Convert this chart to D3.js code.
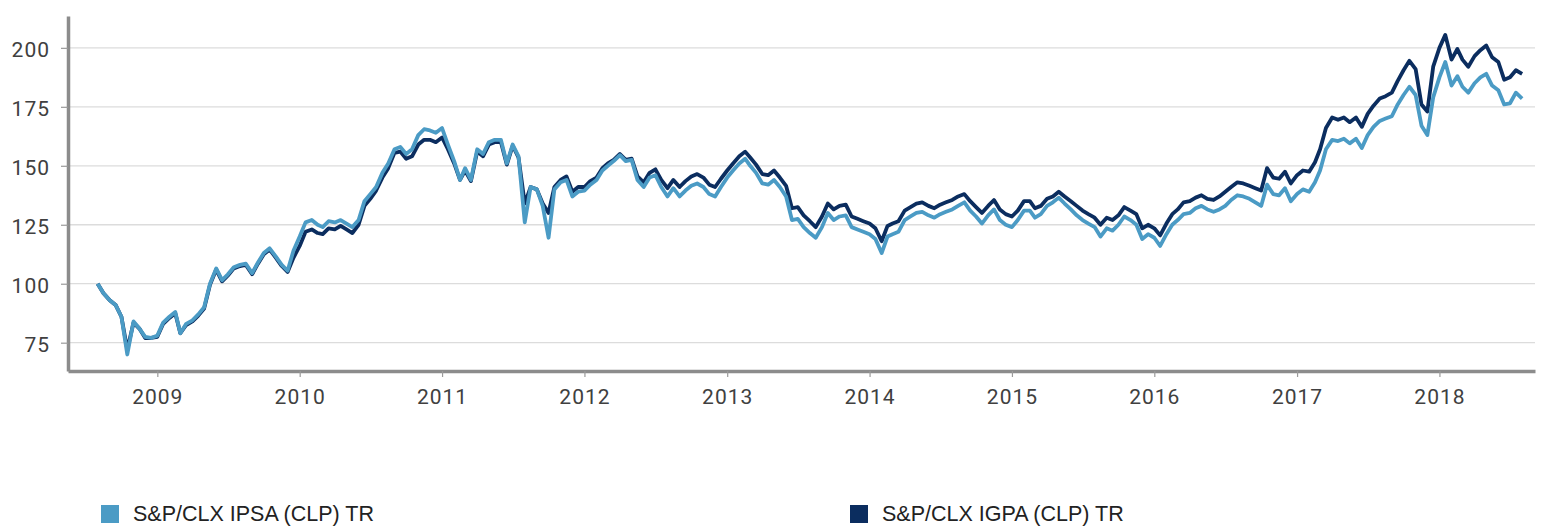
<!DOCTYPE html>
<html>
<head>
<meta charset="utf-8">
<script src="https://cdn.jsdelivr.net/npm/d3@7"></script>
<style>
  body { margin: 0; background: #fff; }
  svg { display: block; }
</style>
</head>
<body>
<svg id="chart" width="1541" height="526"></svg>
<script>
// index levels, read twice a month (1st and 16th), Aug 2008 .. Aug 2018
let ipsa = [
  100, 96, 93, 91, 86, 70, 84, 81, 77.5, 77,                                                                                      // 2008
  78, 83.5, 86, 88, 79, 83, 84.5, 87, 90, 100, 106.5, 101.5, 104, 107, 108, 108.5, 104.5, 109, 113, 115, 111.5, 108, 105.5, 114,    // 2009
  120, 126, 127, 125, 124, 126.5, 126, 127, 125.5, 124, 127, 135, 138, 141, 147, 151, 157, 158, 155, 157, 163, 165.5, 165, 164,     // 2010
  166, 159, 152, 144, 149, 144, 157, 155, 160, 161, 161, 151, 159, 154, 126, 141, 140, 133, 119.5, 140, 143, 144, 137, 139,         // 2011
  139.5, 142, 144, 148, 150, 152, 154.5, 152, 152.5, 144, 141, 145, 146, 141, 137, 140.5, 137, 139.5, 141.5, 142.5, 141, 138, 137, 141, // 2012
  145, 148, 151, 153, 150, 147, 142.5, 142, 144, 141, 137, 127, 127.5, 124, 121.5, 119.5, 124, 130, 127, 128.5, 129, 124, 123, 122,     // 2013
  121, 119, 113, 120, 121, 122, 127, 128.5, 130, 130.5, 129, 128, 129.5, 130.5, 131.5, 133, 134.5, 131, 128.5, 125.5, 129, 131.5, 127, 125, // 2014
  124, 127, 131, 131, 128, 129.5, 133, 134.5, 136.5, 134, 131.5, 129, 127, 125.5, 124, 120, 123.5, 122.5, 125, 128.5, 127, 125, 119, 121,   // 2015
  119.5, 116, 121, 125, 127, 129.5, 130, 132, 133, 131.5, 130.5, 131.5, 133, 135.5, 137.5, 137, 136, 134.5, 133, 142, 138, 137.5, 140.5, 135, // 2016
  138, 140, 139, 143, 148, 157, 161, 160.5, 161.5, 159.5, 161.5, 157.5, 163, 166.5, 169, 170, 171, 176, 180, 183.5, 180, 167, 163, 179,     // 2017
  187.5, 194, 184, 188, 183.5, 181, 185, 187.5, 189, 184, 182, 176, 176.5, 181, 178.5                                               // 2018
]

let igpa = [
  100, 96, 93, 91, 86, 72, 83.5, 81, 77, 77,
  77.5, 83, 85.5, 87.5, 79, 82.5, 84, 86.5, 89.5, 99.5, 106, 101, 103.5, 106.5, 107.5, 108, 104, 108.5, 112.5, 114.5, 111, 107.5, 105, 111,
  116, 122, 123, 121.5, 121, 123.5, 123, 124.5, 123, 121.5, 125, 133, 136, 139.5, 145, 149, 155.5, 156, 153, 154, 159, 161, 161, 160,
  162, 157, 151, 144, 148, 143.5, 156, 154, 159, 160, 160, 150.5, 158.5, 153.5, 134, 141, 140, 134, 130, 141, 144, 145.5, 139, 141,
  141, 143.5, 145, 149, 151, 152.5, 155, 152.5, 153, 145.5, 143, 147, 148.5, 144, 140.5, 144, 141, 143.5, 145.5, 146.5, 145, 142, 141, 144.5,
  148, 151, 154, 156, 153.5, 150.5, 146.5, 146, 148, 145, 141.5, 132, 132.5, 129, 126.5, 124, 128.5, 134, 131.5, 133, 133.5, 128.5, 127.5, 126.5,
  125.5, 123.5, 118, 124.5, 125.5, 126.5, 131, 132.5, 134, 134.5, 133, 132, 133.5, 134.5, 135.5, 137, 138, 135, 132.5, 130, 133, 135.5, 131.5, 129.5,
  128.5, 131, 135, 135, 132, 133, 136, 137, 139, 137, 135, 133, 131, 129.5, 128, 125, 128, 127, 129, 132.5, 131, 129.5, 123.5, 125,
  123.5, 120.5, 125.5, 129.5, 131.5, 134.5, 135, 136.5, 137.5, 136, 135.5, 137, 139, 141, 143, 142.5, 141.5, 140.5, 139.5, 149, 145, 144.5, 147.5, 142.5,
  146, 148, 147.5, 151.5, 157, 166, 170.5, 169.5, 170.5, 168.5, 170.5, 166.5, 172, 175.5, 178.5, 179.5, 181, 186, 190.5, 194.5, 191, 176, 173, 192,
  200, 205.5, 195, 199.5, 195, 192, 196.5, 199, 201, 196, 194, 186.5, 187.5, 190.5, 189
]

let yTicks = [75, 100, 125, 150, 175, 200]
let tickYears = [2009, 2010, 2011, 2012, 2013, 2014, 2015, 2016, 2017, 2018]
let seriesNames = ['S&P/CLX IPSA (CLP) TR', 'S&P/CLX IGPA (CLP) TR']

let colors = { ipsa: '#4b9bc5', igpa: '#0b2d5f' }

// first reading is 1 Aug 2008, then the 16th, then the 1st of the next month...
function readingDate(i) {
  let m = d3.timeMonth.offset(new Date(2008, 7, 1), Math.floor(i / 2))
  return new Date(m.getFullYear(), m.getMonth(), i % 2 ? 16 : 1)
}

let svg = d3.select('#chart')

let x = d3.scaleTime().domain([new Date(2008, 4, 17), new Date(2018, 8, 3)]).range([68, 1535])
let y = d3.scaleLinear().domain([63, 213.5]).range([371, 16])

// grid
svg.append('g')
  .selectAll('line')
  .data(yTicks)
  .enter()
  .append('line')
  .attr('x1', 68)
  .attr('x2', 1535)
  .attr('y1', d => y(d))
  .attr('y2', d => y(d))
  .attr('stroke', '#dcdcdc')
  .attr('stroke-width', 1.3)

let line = d3.line()
  .x((d, i) => x(readingDate(i)))
  .y(d => y(d))

svg.append('path')
  .datum(igpa)
  .attr('fill', 'none')
  .attr('stroke', colors.igpa)
  .attr('stroke-width', 3.8)
  .attr('stroke-linejoin', 'round')
  .attr('d', line)

svg.append('path')
  .datum(ipsa)
  .attr('fill', 'none')
  .attr('stroke', colors.ipsa)
  .attr('stroke-width', 3.8)
  .attr('stroke-linejoin', 'round')
  .attr('d', line)

// axes
let yAxis = svg.append('g').attr('class', 'axis y')
  .attr('transform', 'translate(68,0)')
  .call(d3.axisLeft(y).tickValues(yTicks).tickSize(7).tickSizeOuter(0).tickPadding(11))

let xAxis = svg.append('g').attr('class', 'axis x')
  .attr('transform', 'translate(0,371)')
  .call(d3.axisBottom(x)
    .tickValues(tickYears.map(yr => new Date(yr, 0, 1)))
    .tickFormat(d3.timeFormat('%Y'))
    .tickSize(6).tickSizeOuter(0).tickPadding(12))

svg.selectAll('.axis .domain')
  .attr('stroke', '#8c8c8c')
  .attr('stroke-width', 3.5)
svg.selectAll('.axis .tick line')
  .attr('stroke', '#9a9a9a')
  .attr('stroke-width', 1.2)
svg.selectAll('.axis text')
  .attr('font-family', 'Roboto, sans-serif')
  .attr('font-size', 21)
  .attr('letter-spacing', 1)
  .attr('fill', '#404040')
yAxis.selectAll('text').attr('dy', '0.42em')

// legend
let legend = svg.append('g')
  .selectAll('g')
  .data(seriesNames)
  .enter()
  .append('g')
  .attr('transform', (d, i) => 'translate(' + [101, 850][i] + ',505)')

legend.append('rect')
  .attr('width', 18)
  .attr('height', 18)
  .attr('fill', (d, i) => i ? colors.igpa : colors.ipsa)

legend.append('text')
  .attr('x', 32)
  .attr('y', 16)
  .attr('font-family', '"Liberation Sans", Arial, sans-serif')
  .attr('font-size', 21.5)
  .attr('fill', '#222')
  .text(d => d)
</script>
</body>
</html>
